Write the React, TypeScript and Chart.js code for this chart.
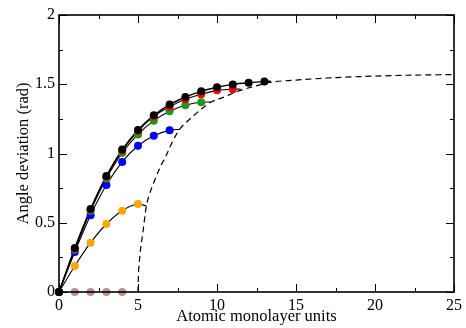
import React, { useEffect, useRef } from "react";
import { Chart, registerables } from "chart.js";

Chart.register(...registerables);

// Monolayer positions for each series (markers)
const xBrown = [0, 1, 2, 3, 4];
const yBrown = [0, 0, 0, 0, 0];

const xOrange = [0, 1, 2, 3, 4, 5];
const yOrange = [0, 0.188, 0.356, 0.491, 0.587, 0.635];

const xBlue = [0, 1, 2, 3, 4, 5, 6, 7];
const yBlue = [0, 0.289, 0.554, 0.772, 0.939, 1.056, 1.129, 1.167];

const xGreen = [0, 1, 2, 3, 4, 5, 6, 7, 8, 9];
const yGreen = [0, 0.305, 0.587, 0.82, 1.004, 1.138, 1.237, 1.305, 1.348, 1.37];

const xRed = [0, 1, 2, 3, 4, 5, 6, 7, 8, 9, 10, 11];
const yRed = [0, 0.312, 0.595, 0.832, 1.02, 1.162, 1.268, 1.338, 1.391, 1.427, 1.456, 1.463];

const xBlack = [0, 1, 2, 3, 4, 5, 6, 7, 8, 9, 10, 11, 12, 13];
const yBlack = [0, 0.318, 0.599, 0.838, 1.028, 1.17, 1.276, 1.353, 1.408, 1.449, 1.478, 1.499, 1.511, 1.519];

// End points of each solid fit curve (where it meets the dashed curve)
const endOrange = [5.53, 0.622];
const endBlue = [7.64, 1.175];
const endGreen = [9.6, 1.372];
const endRed = [11.5, 1.466];
const endBlack = [13.4, 1.522];

// Dashed boundary curve
const xDashed = [5, 5.02, 5.11, 5.32, 5.53, 5.74, 6.0, 6.4, 6.8, 7.2, 7.64, 8.2, 9.0, 9.6, 10.5, 11.2, 12.7, 13.3, 15, 17, 19, 22, 25];
const yDashed = [0, 0.1, 0.25, 0.44, 0.62, 0.71, 0.79, 0.9, 0.99, 1.09, 1.175, 1.24, 1.32, 1.37, 1.41, 1.445, 1.495, 1.513, 1.53, 1.545, 1.555, 1.565, 1.57];

const xTicks = [0, 5, 10, 15, 20, 25];
const yTicks = [0, 0.5, 1, 1.5, 2];

const FONT = "'Liberation Serif', 'Times New Roman', serif";

const pts = (xs: number[], ys: number[]) => xs.map((x, i) => ({ x, y: ys[i] }));
const fit = (xs: number[], ys: number[], end: number[]) => [...pts(xs, ys), { x: end[0], y: end[1] }];

const frameTicks = {
  id: "frameTicks",
  afterDatasetsDraw(chart: any) {
    const { ctx, chartArea } = chart;
    const xs = chart.scales.x;
    const ys = chart.scales.y;
    const { left, right, top, bottom } = chartArea;
    ctx.save();
    ctx.strokeStyle = "#000";
    ctx.lineWidth = 1;
    for (let v = 0; v <= 25.001; v += 2.5) {
      const major = Math.abs(v / 5 - Math.round(v / 5)) < 1e-6;
      const len = major ? 8 : 4;
      const px = Math.round(xs.getPixelForValue(v)) + 0.5;
      ctx.beginPath();
      ctx.moveTo(px, bottom);
      ctx.lineTo(px, bottom - len);
      ctx.moveTo(px, top);
      ctx.lineTo(px, top + len);
      ctx.stroke();
    }
    for (let v = 0; v <= 2.0001; v += 0.25) {
      const major = Math.abs(v / 0.5 - Math.round(v / 0.5)) < 1e-6;
      const len = major ? 8 : 4;
      const py = Math.round(ys.getPixelForValue(v)) + 0.5;
      ctx.beginPath();
      ctx.moveTo(left, py);
      ctx.lineTo(left + len, py);
      ctx.moveTo(right, py);
      ctx.lineTo(right - len, py);
      ctx.stroke();
    }
    ctx.lineWidth = 1.6;
    ctx.strokeRect(left, top, right - left, bottom - top);
    ctx.restore();
  },
};

export default function App() {
  const ref = useRef<HTMLCanvasElement | null>(null);
  useEffect(() => {
    document.body.style.margin = "0";
    if (!ref.current) return;
    const marker = (label: string, xs: number[], ys: number[], color: string, order: number) => ({
      label,
      data: pts(xs, ys),
      showLine: false,
      pointRadius: 4,
      pointBackgroundColor: color,
      pointBorderColor: color,
      pointBorderWidth: 0,
      clip: false,
      order,
    });
    const curve = (label: string, data: any[], order: number, width = 1.1, dash: number[] = []) => ({
      label,
      data,
      showLine: true,
      pointRadius: 0,
      borderColor: "#000",
      borderWidth: width,
      borderDash: dash,
      cubicInterpolationMode: "monotone",
      tension: 0.4,
      order,
    });
    const chart = new Chart(ref.current, {
      type: "scatter",
      data: {
        datasets: [
          marker("black", xBlack, yBlack, "#000000", 0),
          marker("red", xRed, yRed, "#ff0000", 1),
          marker("green", xGreen, yGreen, "#1a9a1a", 2),
          marker("blue", xBlue, yBlue, "#0000ff", 3),
          marker("orange", xOrange, yOrange, "#ffa500", 4),
          marker("brown", xBrown, yBrown, "#bc8f8f", 5),
          curve("fitBlack", fit(xBlack, yBlack, endBlack), 10, 1.4),
          curve("fitRed", fit(xRed, yRed, endRed), 11),
          curve("fitGreen", fit(xGreen, yGreen, endGreen), 12),
          curve("fitBlue", fit(xBlue, yBlue, endBlue), 13),
          curve("fitOrange", fit(xOrange, yOrange, endOrange), 14),
          curve("dashed", pts(xDashed, yDashed), 15, 1.2, [6, 4]),
        ] as any,
      },
      options: {
        animation: false,
        responsive: false,
        layout: { padding: { top: 15, right: 11, left: 0, bottom: 0 } },
        plugins: { legend: { display: false }, tooltip: { enabled: false } },
        scales: {
          x: {
            type: "linear",
            min: 0,
            max: 25,
            afterBuildTicks: (s: any) => {
              s.ticks = xTicks.map((v) => ({ value: v }));
            },
            afterFit: (s: any) => {
              s.height = 36;
            },
            grid: { display: false, drawTicks: false },
            border: { display: false },
            ticks: {
              color: "#000",
              padding: 4,
              font: { family: FONT, size: 16 },
              callback: (v: any) => String(v),
            },
            title: {
              display: true,
              text: "Atomic monolayer units",
              color: "#000",
              font: { family: FONT, size: 16.5 },
              padding: { top: 0, bottom: 1 },
            },
          },
          y: {
            type: "linear",
            min: 0,
            max: 2,
            afterBuildTicks: (s: any) => {
              s.ticks = yTicks.map((v) => ({ value: v }));
            },
            afterFit: (s: any) => {
              s.width = 59;
            },
            grid: { display: false, drawTicks: false },
            border: { display: false },
            ticks: {
              color: "#000",
              padding: 4,
              font: { family: FONT, size: 16 },
              callback: (v: any) => String(v),
            },
            title: {
              display: true,
              text: "Angle deviation (rad)",
              color: "#000",
              font: { family: FONT, size: 16.5 },
              padding: { top: 14, bottom: 0 },
            },
          },
        },
      },
      plugins: [frameTicks],
    });
    return () => chart.destroy();
  }, []);
  return (
    <div style={{ width: 466, height: 328 }}>
      <canvas ref={ref} width={466} height={328} style={{ display: "block" }} />
    </div>
  );
}
